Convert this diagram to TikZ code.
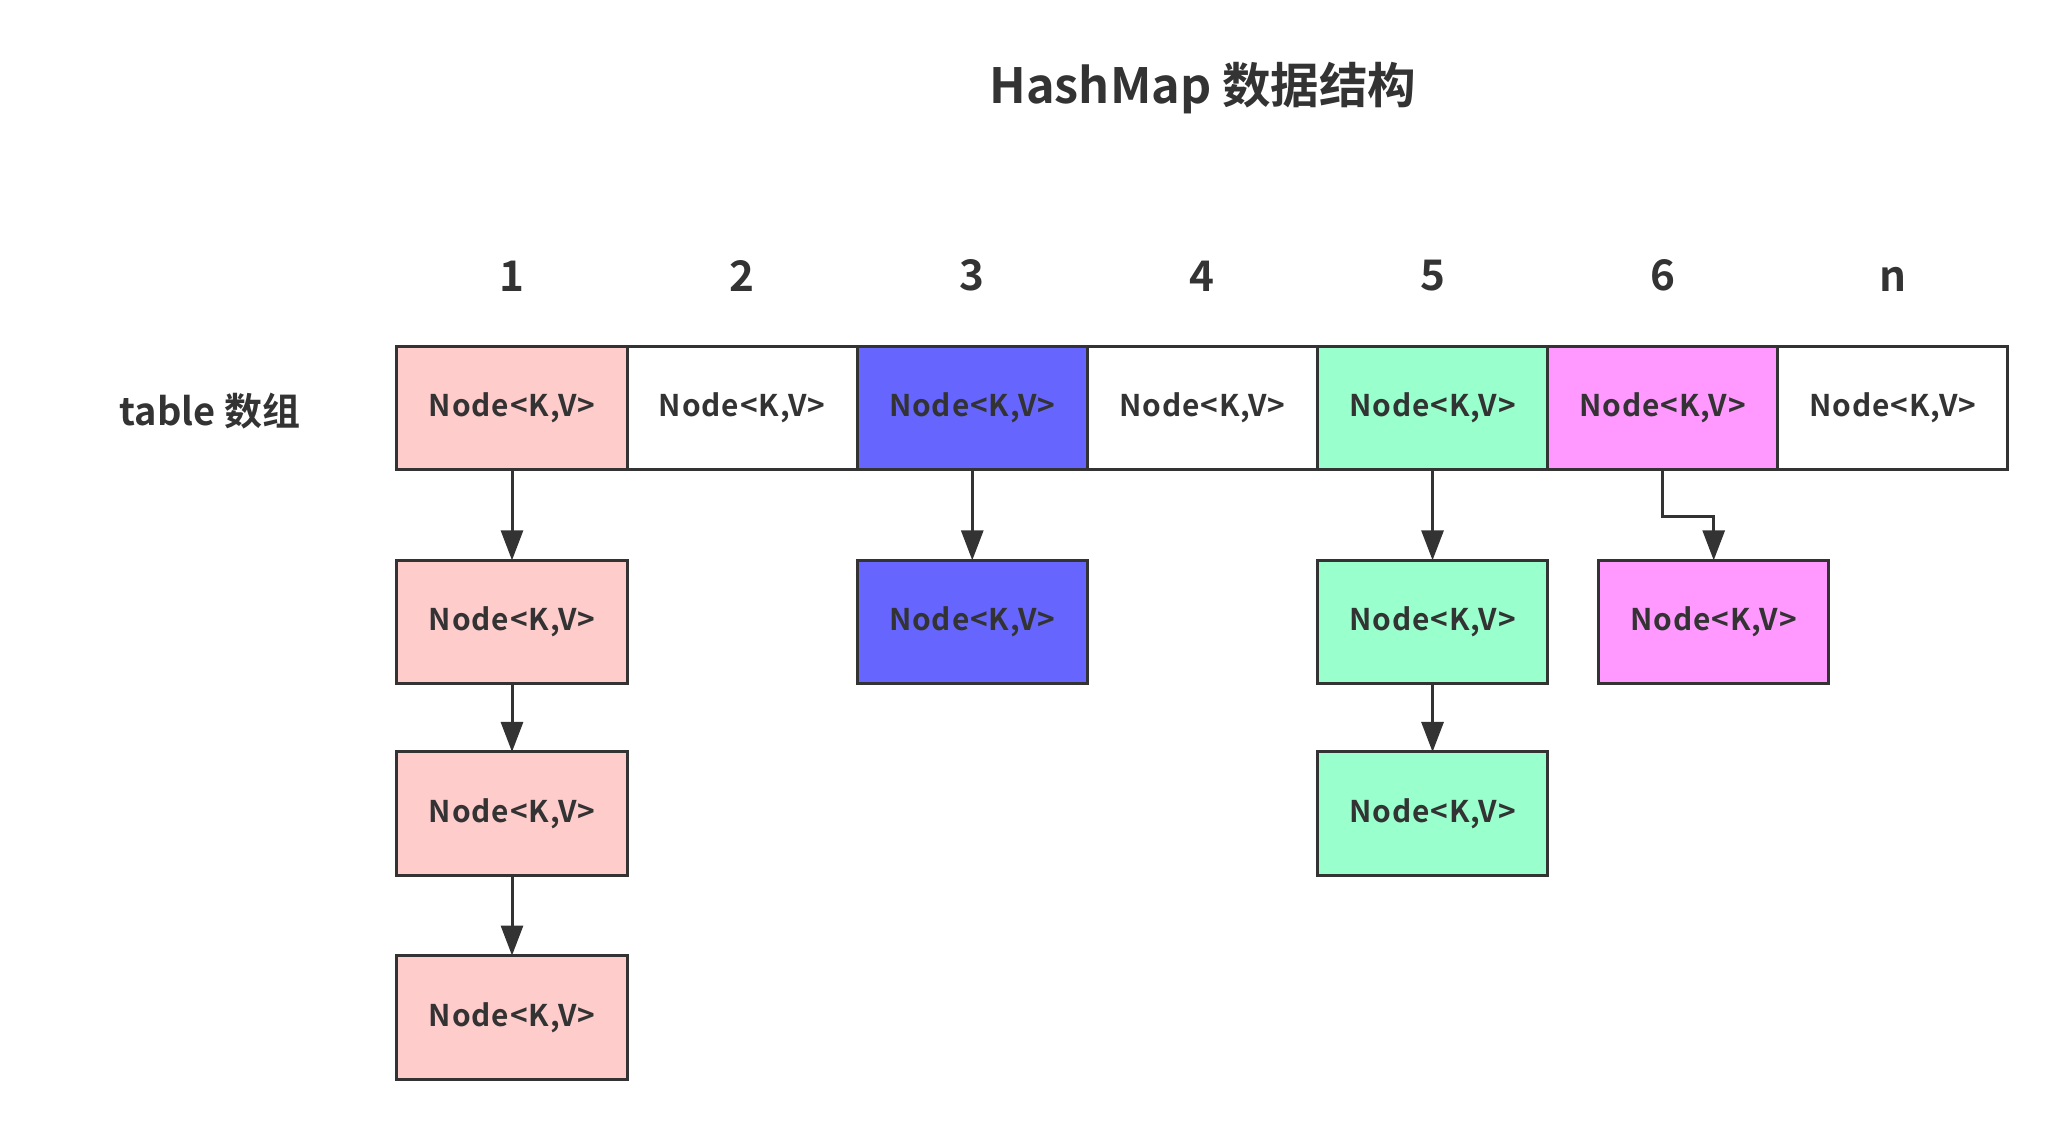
\documentclass[tikz,border=0pt]{standalone}
\usepackage{fontspec}
\setmainfont{Noto Sans CJK SC}[BoldFont={Noto Sans CJK SC Bold}]
\usepackage{xcolor}
\usepackage{tikz}
\usetikzlibrary{positioning, arrows.meta}

\definecolor{linegray}{HTML}{333333}
\definecolor{pinkfill}{HTML}{FFCCCC}
\definecolor{bluefill}{HTML}{6666FF}
\definecolor{greenfill}{HTML}{99FFCC}
\definecolor{magentafill}{HTML}{FF99FF}

\begin{document}
\begin{tikzpicture}[
    x=0.01cm, y=-0.01cm,
    node distance=0.905cm and 0cm,
    cell/.style={rectangle, draw=linegray, line width=0.85pt, minimum width=2.3cm, minimum height=1.235cm,
                 inner sep=0pt, outer sep=0pt, text=linegray,
                 font=\bfseries\fontsize{8.5}{10}\selectfont\addfontfeatures{LetterSpace=3}},
    idx/.style={inner sep=0pt, text=linegray, font=\bfseries\fontsize{12}{14}\selectfont},
    arrow/.style={draw=linegray, line width=0.85pt, -{Triangle[length=0.3cm, width=0.22cm]}}
]
    \useasboundingbox (0,0) rectangle (2060,1128);

    % Title and row label
    \node (title) [text=linegray, font=\bfseries\fontsize{13.8}{16}\selectfont] at (1203,88) {HashMap 数据结构};
    \node (tablelbl) [text=linegray, font=\bfseries\fontsize{10.8}{13}\selectfont] at (210,411) {table 数组};

    % table array
    \node (t1) [cell, fill=pinkfill] at (512,408) {Node<K,V>};
    \node (t2) [cell, right=of t1] {Node<K,V>};
    \node (t3) [cell, fill=bluefill, right=of t2] {Node<K,V>};
    \node (t4) [cell, right=of t3] {Node<K,V>};
    \node (t5) [cell, fill=greenfill, right=of t4] {Node<K,V>};
    \node (t6) [cell, fill=magentafill, right=of t5] {Node<K,V>};
    \node (t7) [cell, right=of t6] {Node<K,V>};

    % Index labels
    \foreach \i/\lbl in {1/1, 2/2, 3/3, 4/4, 5/5, 6/6, 7/n}
        \node (i\i) [idx, anchor=south] at ([yshift=0.54cm]t\i.north) {\lbl};

    % Linked lists
    \node (c1a) [cell, fill=pinkfill, below=of t1] {Node<K,V>};
    \node (c1b) [cell, fill=pinkfill, below=0.68cm of c1a] {Node<K,V>};
    \node (c1c) [cell, fill=pinkfill, below=0.8cm of c1b] {Node<K,V>};
    \node (c3a) [cell, fill=bluefill, below=of t3] {Node<K,V>};
    \node (c5a) [cell, fill=greenfill, below=of t5] {Node<K,V>};
    \node (c5b) [cell, fill=greenfill, below=0.68cm of c5a] {Node<K,V>};
    \node (c6a) [cell, fill=magentafill, right=0.51cm of c5a] {Node<K,V>};

    % Links
    \draw [arrow] (t1) -- (c1a);
    \draw [arrow] (c1a) -- (c1b);
    \draw [arrow] (c1b) -- (c1c);
    \draw [arrow] (t3) -- (c3a);
    \draw [arrow] (t5) -- (c5a);
    \draw [arrow] (c5a) -- (c5b);
    \draw [arrow] (t6.south) -- ++(0,47) -| (c6a.north);

\end{tikzpicture}
\end{document}
